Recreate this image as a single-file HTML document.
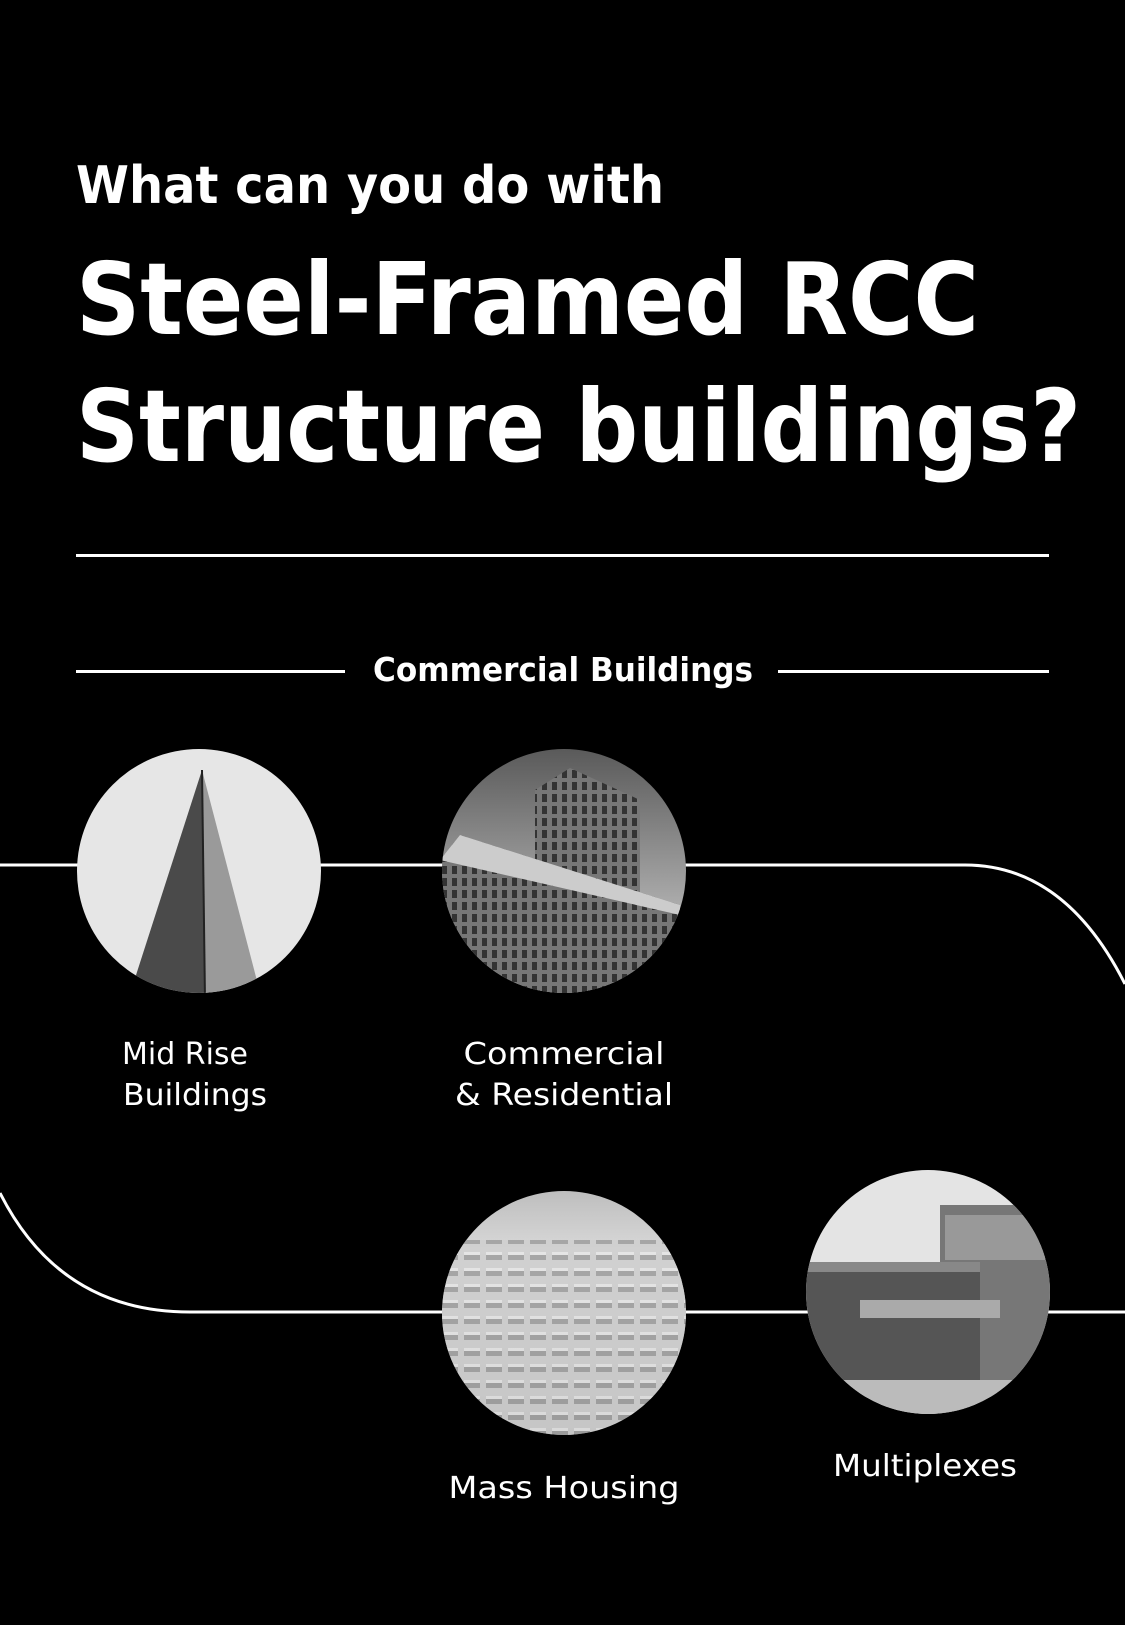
<!DOCTYPE html>
<html><head><meta charset="utf-8"><style>
html,body{margin:0;padding:0;background:#000;}
svg{display:block}
text{font-family:"DejaVu Sans","Liberation Sans",sans-serif;fill:#fff}
</style></head><body>
<svg width="1125" height="1625" viewBox="0 0 1125 1625" xmlns="http://www.w3.org/2000/svg">
<defs>
<clipPath id="c1"><circle cx="199" cy="871" r="122"/></clipPath>
<clipPath id="c2"><circle cx="564" cy="871" r="122"/></clipPath>
<clipPath id="c3"><circle cx="564" cy="1313" r="122"/></clipPath>
<clipPath id="c4"><circle cx="928" cy="1292" r="122"/></clipPath>
<linearGradient id="sky" x1="0" y1="0" x2="0" y2="1"><stop offset="0" stop-color="#555"/><stop offset="1" stop-color="#ddd"/></linearGradient>
<linearGradient id="mh" x1="0" y1="0" x2="0" y2="1"><stop offset="0" stop-color="#bbb"/><stop offset="0.25" stop-color="#d8d8d8"/><stop offset="1" stop-color="#9a9a9a"/></linearGradient>
<pattern id="win" width="10" height="12" patternUnits="userSpaceOnUse"><rect width="10" height="12" fill="#777"/><rect x="2" y="2" width="5" height="8" fill="#333"/></pattern>
<pattern id="hs" width="22" height="16" patternUnits="userSpaceOnUse"><rect width="22" height="16" fill="#cfcfcf"/><rect x="2" y="4" width="16" height="8" fill="#9a9a9a"/><rect x="2" y="4" width="16" height="3" fill="#e8e8e8"/></pattern>
</defs>
<rect width="1125" height="1625" fill="#000"/>
<text x="76" y="203" font-size="52" font-weight="bold" textLength="588" lengthAdjust="spacingAndGlyphs">What can you do with</text>
<text x="76" y="334" font-size="100" font-weight="bold" textLength="903" lengthAdjust="spacingAndGlyphs">Steel-Framed RCC</text>
<text x="76" y="461" font-size="100" font-weight="bold" textLength="1005" lengthAdjust="spacingAndGlyphs">Structure buildings?</text>
<rect x="76" y="554" width="973" height="3" fill="#fff"/>
<rect x="76" y="670" width="269" height="3" fill="#fff"/>
<rect x="778" y="670" width="271" height="3" fill="#fff"/>
<text x="373" y="681" font-size="33" font-weight="bold" textLength="380" lengthAdjust="spacingAndGlyphs">Commercial Buildings</text>
<path d="M0 865 H965 Q1065 865 1125 984" fill="none" stroke="#fff" stroke-width="3"/>
<path d="M0 1193 Q60 1312 190 1312 H1125" fill="none" stroke="#fff" stroke-width="3"/>
<g clip-path="url(#c1)"><rect x="70" y="740" width="260" height="260" fill="#e6e6e6"/>
<polygon points="202,770 128,1000 205,1000" fill="#4a4a4a"/><polygon points="202,770 205,1000 262,1000" fill="#9a9a9a"/><line x1="202" y1="770" x2="205" y2="1000" stroke="#222" stroke-width="2"/></g>
<g clip-path="url(#c2)"><rect x="440" y="740" width="260" height="260" fill="url(#sky)"/>
<polygon points="535,790 570,768 640,800 640,1000 535,1000" fill="url(#win)"/>
<polygon points="440,860 460,835 680,905 680,1000 440,1000" fill="url(#win)"/>
<polygon points="440,860 460,835 680,905 680,915" fill="#ccc"/></g>
<g clip-path="url(#c3)"><rect x="440" y="1185" width="260" height="260" fill="url(#mh)"/>
<rect x="440" y="1240" width="260" height="200" fill="url(#hs)" opacity="0.8"/></g>
<g clip-path="url(#c4)"><rect x="800" y="1165" width="260" height="260" fill="#e4e4e4"/>
<rect x="940" y="1205" width="110" height="220" fill="#777"/><rect x="945" y="1215" width="100" height="45" fill="#999"/>
<rect x="800" y="1262" width="180" height="120" fill="#555"/><rect x="800" y="1262" width="180" height="10" fill="#888"/>
<rect x="860" y="1300" width="140" height="18" fill="#aaa"/><rect x="800" y="1380" width="260" height="40" fill="#bbb"/></g>
<g font-family="'DejaVu Sans Condensed','DejaVu Sans',sans-serif" font-size="30">
<text x="122" y="1064" textLength="126" lengthAdjust="spacingAndGlyphs">Mid Rise</text>
<text x="123" y="1105" textLength="144" lengthAdjust="spacingAndGlyphs">Buildings</text>
<text x="564" y="1064" text-anchor="middle" textLength="201" lengthAdjust="spacingAndGlyphs">Commercial</text>
<text x="564" y="1105" text-anchor="middle" textLength="218" lengthAdjust="spacingAndGlyphs">&amp; Residential</text>
<text x="564" y="1498" text-anchor="middle" textLength="231" lengthAdjust="spacingAndGlyphs">Mass Housing</text>
<text x="925" y="1476" text-anchor="middle" textLength="184" lengthAdjust="spacingAndGlyphs">Multiplexes</text>
</g>
</svg>
</body></html>
